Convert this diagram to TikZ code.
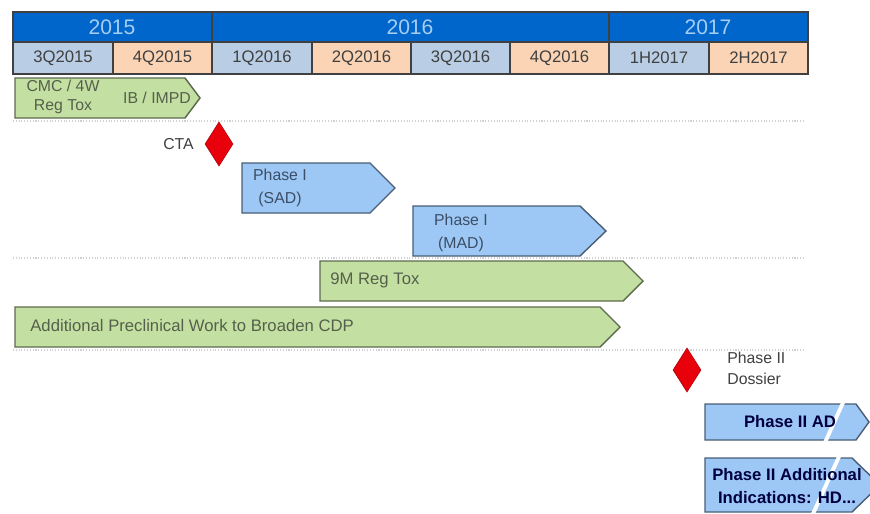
\documentclass[tikz,border=0pt]{standalone}
\usepackage{fontspec}
\setmainfont{Liberation Sans}
\usetikzlibrary{shapes.geometric, positioning}
\definecolor{hdblue}{HTML}{0066CC}
\definecolor{hdtext}{HTML}{A6CDF2}
\definecolor{qblue}{HTML}{B9CDE5}
\definecolor{qpeach}{HTML}{FAD4B4}
\definecolor{qtext}{HTML}{404040}
\definecolor{gfill}{HTML}{C4DFA2}
\definecolor{gline}{HTML}{5C6B4C}
\definecolor{gtextc}{HTML}{55604C}
\definecolor{bfill}{HTML}{9DC8F5}
\definecolor{bline}{HTML}{4A5E75}
\definecolor{btextc}{HTML}{3C4E66}
\definecolor{mred}{HTML}{E8000B}
\definecolor{sepgray}{HTML}{CFCFD4}
\tikzset{
  yearcell/.style={draw=black!75, fill=hdblue, line width=0.6pt},
  yearlabel/.style={text=hdtext, font=\fontsize{12}{14}\selectfont, inner sep=0pt},
  qcell/.style={draw=black!75, line width=0.6pt},
  qlabel/.style={text=qtext, font=\fontsize{9.5}{11}\selectfont, inner sep=0pt},
  greenbar/.style={draw=gline, fill=gfill, line width=0.8pt},
  bluebar/.style={draw=bline, fill=bfill, line width=0.8pt},
  gtext/.style={text=gtextc, font=\fontsize{9.5}{11}\selectfont, inner sep=0pt},
  btext/.style={text=btextc, font=\fontsize{9}{11}\selectfont, inner sep=0pt, align=center},
  boldtext/.style={text=black!75!blue, font=\bfseries\fontsize{9.5}{12}\selectfont, inner sep=0pt, align=center},
  milestone/.style={diamond, fill=mred, draw=mred!80!black, inner sep=0pt,
                    minimum width=0.56cm, minimum height=0.88cm},
  mtext/.style={text=black!75, font=\fontsize{9}{11}\selectfont, inner sep=0pt, align=left},
  sepline/.style={draw=sepgray, densely dotted, line width=0.6pt},
  breakmark/.style={draw=white, line width=2.2pt},
}
\begin{document}
\begin{tikzpicture}[x=0.02cm, y=-0.02cm]
  \clip (0,0) rectangle (870,514);
  \fill[white] (0,0) rectangle (870,514);

  % years
  \draw[yearcell] (13,12) rectangle (212,42);
  \draw[yearcell] (212,12) rectangle (609,42);
  \draw[yearcell] (609,12) rectangle (808,42);
  \node[yearlabel] (y2015) at (112,27) {2015};
  \node[yearlabel] (y2016) at (410,27) {2016};
  \node[yearlabel] (y2017) at (708,27) {2017};

  % quarters
  \foreach \xa/\xb/\lbl/\col [count=\i] in {13/113/3Q2015/qblue, 113/212/4Q2015/qpeach,
      212/312/1Q2016/qblue, 312/411/2Q2016/qpeach, 411/510/3Q2016/qblue,
      510/609/4Q2016/qpeach, 609/709/1H2017/qblue, 709/808/2H2017/qpeach}{
    \draw[qcell, fill=\col] (\xa,42) rectangle (\xb,74);
    \node[qlabel] (q\i) at ({(\xa+\xb)/2},58) {\lbl};
  }

  % separators
  \draw[sepline] (13,121) -- (803,121);
  \draw[sepline] (13,258) -- (803,258);
  \draw[sepline] (13,350) -- (803,350);

  % preclinical
  \draw[greenbar] (15,78) -- (185,78) -- (200,98) -- (185,118) -- (15,118) -- cycle;
  \node[gtext, align=center, font=\fontsize{9}{10}\selectfont] (cmc) at (63,97) {CMC / 4W\\[1pt]Reg Tox};
  \node[gtext, font=\fontsize{9}{10}\selectfont] (ib) at (157,98) {IB / IMPD};

  \node[milestone] (cta) at (219,144) {};
  \node[mtext, left=6pt of cta] (ctalbl) {CTA};

  % phase I
  \draw[bluebar] (242,163) -- (370,163) -- (395,188) -- (370,213) -- (242,213) -- cycle;
  \node[btext] (sad) at (280,188) {Phase I\\[2pt](SAD)};
  \draw[bluebar] (413,206) -- (580,206) -- (606,231) -- (580,256) -- (413,256) -- cycle;
  \node[btext] (mad) at (461,233) {Phase I\\[2pt](MAD)};

  % tox and preclinical
  \draw[greenbar] (320,261) -- (623,261) -- (643,281) -- (623,301) -- (320,301) -- cycle;
  \node[gtext, anchor=west] (tox) at (330,280) {9M Reg Tox};
  \draw[greenbar] (15,307) -- (600,307) -- (620,327) -- (600,347) -- (15,347) -- cycle;
  \node[gtext, anchor=west] (cdp) at (30,326) {Additional Preclinical Work to Broaden CDP};

  % phase II
  \node[milestone] (dossier) at (687,370) {};
  \node[mtext, anchor=west] (dossierlbl) at (727,368) {Phase II\\[1pt]Dossier};

  \draw[bluebar] (705,404) -- (856,404) -- (869,422) -- (856,440) -- (705,440) -- cycle;
  \draw[breakmark] (846,396) -- (823,447);
  \node[boldtext] (ad) at (790,422) {Phase II AD};

  \draw[bluebar] (705,458) -- (852,458) -- (880,485) -- (852,512) -- (705,512) -- cycle;
  \draw[breakmark] (842,450) -- (812,516);
  \node[boldtext] (hd) at (787,486) {Phase II Additional\\[1pt]Indications: HD...};
\end{tikzpicture}
\end{document}
